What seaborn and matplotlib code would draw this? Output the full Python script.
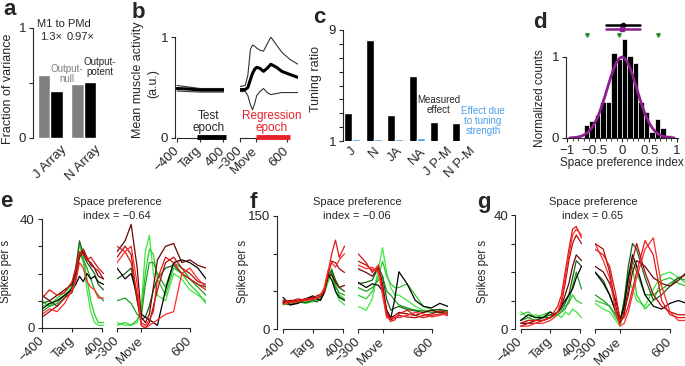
import numpy as np
import pandas as pd
import matplotlib
matplotlib.use("Agg")
import matplotlib.pyplot as plt
from matplotlib.ticker import MultipleLocator
import seaborn as sns

sns.set_style("ticks")
plt.rcParams["font.family"] = ["Liberation Sans", "DejaVu Sans"]
plt.rcParams["axes.linewidth"] = 0.8
plt.rcParams["xtick.major.width"] = 0.8
plt.rcParams["ytick.major.width"] = 0.8
plt.rcParams["xtick.major.size"] = 3
plt.rcParams["ytick.major.size"] = 3
plt.rcParams["xtick.labelsize"] = 9.5
plt.rcParams["ytick.labelsize"] = 9.5
plt.rcParams["xtick.major.pad"] = 2
plt.rcParams["ytick.major.pad"] = 2

# ---------------- data ----------------
# a: fraction of variance (M1 to PMd)
arrays = ["J Array", "N Array"]
null_frac = [0.57, 0.49]
potent_frac = [0.43, 0.51]

# b: mean muscle activity, target- and movement-aligned
b_t_targ = [-400, -200, 0, 200, 420]
b_mean_targ = [0.49, 0.485, 0.475, 0.475, 0.475]
b_hi_targ = [0.52, 0.505, 0.49, 0.49, 0.49]
b_lo_targ = [0.465, 0.46, 0.455, 0.455, 0.455]
b_t_move = [-300, -200, -150, -100, -60, -20, 20, 80, 150, 220, 290, 400, 500, 650, 810]
b_mean_move = [0.48, 0.48, 0.50, 0.58, 0.64, 0.68, 0.70, 0.69, 0.66, 0.69, 0.73, 0.70, 0.66, 0.63, 0.60]
b_hi_move = [0.51, 0.52, 0.62, 0.88, 0.92, 0.91, 0.89, 0.87, 0.86, 0.93, 1.0, 0.92, 0.85, 0.78, 0.73]
b_lo_move = [0.46, 0.46, 0.42, 0.33, 0.28, 0.34, 0.42, 0.46, 0.49, 0.45, 0.43, 0.44, 0.45, 0.45, 0.45]
test_epoch = [-50, 450]
regression_epoch = [0, 650]

# c: tuning ratio
c_labels = ["J", "N", "JA", "NA", "J P-M", "N P-M"]
c_measured = [3.0, 8.3, 2.9, 5.7, 2.4, 2.3]
c_tuning = [1.16, 1.12, 1.14, 1.22, 1.10, 1.05]

# d: space preference index histogram
d_edges = [-0.7, -0.6, -0.5, -0.4, -0.3, -0.2, -0.1, 0.0, 0.1, 0.2, 0.3, 0.4, 0.5, 0.6, 0.7, 0.8, 0.9]
d_counts = [0.16, 0.21, 0.28, 0.44, 0.44, 1.05, 0.97, 1.22, 1.01, 0.93, 0.44, 0.32, 0.08, 0.24, 0.12, 0.04]
d_fit_x = [-0.95, -0.9, -0.85, -0.8, -0.75, -0.7, -0.65, -0.6, -0.55, -0.5, -0.45, -0.4, -0.35,
           -0.3, -0.25, -0.2, -0.15, -0.1, -0.05, 0.0, 0.05, 0.1, 0.15, 0.2, 0.25, 0.3, 0.35,
           0.4, 0.45, 0.5, 0.55, 0.6, 0.65, 0.7, 0.75, 0.8, 0.85, 0.9, 0.95]
d_fit_y = [0.002, 0.004, 0.007, 0.012, 0.021, 0.035, 0.055, 0.085, 0.126, 0.180, 0.249, 0.334, 0.432,
           0.539, 0.651, 0.760, 0.857, 0.934, 0.983, 1.0, 0.983, 0.934, 0.857, 0.760, 0.651, 0.539, 0.432,
           0.334, 0.249, 0.180, 0.126, 0.085, 0.055, 0.035, 0.021, 0.012, 0.007, 0.004, 0.002]
d_data_mean, d_data_range = 0.02, [-0.30, 0.32]
d_fit_mean, d_fit_range = 0.0, [-0.30, 0.32]
d_examples = [-0.64, -0.06, 0.65]

# e-g: example neurons (conditions from green to red)
cond_names = ["g1", "g2", "g3", "g4", "k", "r1", "r2", "r3", "r4"]
cond_colors = ["#3ee83e", "#2ccc2c", "#1f9f1f", "#175e17", "#000000",
               "#6a0505", "#b00c0c", "#e01616", "#ff2a2a"]
t_targ = [-400, -300, -200, -100, 0, 50, 100, 150, 200, 250, 300, 350, 420]
t_move = [-300, -200, -125, -50, 0, 50, 100, 150, 200, 300, 400, 500, 600, 700, 800]

e_targ = [
    [8, 9, 10, 12, 15, 22, 31, 24, 14, 6, 2, 1, 1],
    [10, 8, 11, 13, 16, 20, 28, 26, 18, 10, 5, 2, 2],
    [6, 8, 9, 12, 14, 20, 27, 25, 22, 18, 14, 12, 10],
    [9, 10, 8, 11, 15, 22, 32, 27, 24, 22, 20, 16, 14],
    [7, 9, 10, 12, 14, 16, 19, 17, 20, 18, 19, 17, 16],
    [12, 10, 12, 14, 16, 20, 26, 28, 25, 24, 22, 19, 18],
    [4, 6, 8, 11, 13, 18, 27, 29, 26, 23, 22, 21, 18],
    [11, 14, 12, 13, 17, 22, 28, 27, 25, 26, 24, 22, 20],
    [5, 7, 6, 9, 14, 17, 24, 22, 17, 15, 14, 11, 11],
]
e_move = [
    [2, 1, 1, 2, 8, 28, 34, 20, 12, 10, 20, 18, 14, 12, 10],
    [1, 2, 1, 3, 6, 20, 29, 27, 18, 12, 22, 20, 16, 13, 9],
    [10, 11, 9, 5, 4, 16, 24, 24, 20, 15, 24, 22, 18, 15, 12],
    [18, 20, 22, 10, 3, 4, 8, 14, 18, 22, 23, 20, 18, 16, 15],
    [22, 18, 20, 12, 5, 4, 3, 2, 1, 14, 24, 25, 24, 22, 18],
    [28, 32, 38, 22, 4, 2, 5, 15, 25, 30, 31, 24, 25, 23, 22],
    [26, 30, 27, 10, 1, 0, 2, 8, 14, 24, 26, 22, 20, 17, 16],
    [30, 28, 24, 12, 2, 1, 3, 6, 18, 26, 24, 20, 18, 16, 14],
    [24, 28, 30, 16, 1, 0, 1, 2, 3, 5, 6, 20, 22, 18, 15],
]
f_targ = [
    [32, 35, 36, 34, 36, 38, 40, 48, 62, 72, 50, 38, 32],
    [35, 33, 38, 36, 38, 40, 42, 50, 68, 80, 60, 45, 40],
    [38, 36, 35, 38, 40, 42, 44, 48, 66, 75, 55, 48, 45],
    [34, 32, 36, 35, 38, 36, 40, 50, 70, 78, 65, 55, 50],
    [42, 32, 34, 40, 44, 40, 38, 48, 72, 65, 50, 42, 38],
    [36, 38, 37, 40, 42, 40, 44, 50, 70, 72, 62, 55, 58],
    [35, 37, 40, 38, 42, 44, 46, 52, 72, 90, 88, 80, 75],
    [38, 36, 38, 40, 40, 42, 44, 50, 75, 100, 118, 95, 110],
    [33, 35, 36, 38, 39, 41, 45, 55, 78, 88, 82, 92, 100],
]
f_move = [
    [30, 25, 40, 80, 108, 75, 55, 45, 45, 38, 30, 25, 24, 22, 22],
    [45, 40, 50, 70, 90, 70, 60, 55, 55, 60, 45, 30, 26, 25, 24],
    [55, 50, 55, 65, 70, 50, 45, 38, 32, 28, 25, 24, 22, 22, 20],
    [60, 62, 65, 82, 70, 40, 25, 28, 30, 26, 24, 22, 25, 26, 24],
    [62, 55, 60, 58, 50, 25, 14, 40, 76, 60, 38, 30, 28, 34, 30],
    [80, 75, 70, 82, 60, 25, 15, 18, 22, 20, 18, 22, 25, 22, 20],
    [90, 85, 78, 80, 55, 20, 12, 15, 18, 16, 15, 18, 20, 24, 22],
    [100, 88, 75, 85, 50, 18, 10, 12, 20, 25, 18, 15, 18, 20, 18],
    [85, 80, 82, 75, 45, 15, 14, 16, 15, 18, 22, 20, 16, 18, 22],
]
g_targ = [
    [6, 4, 5, 4, 5, 4, 5, 4, 6, 5, 7, 6, 4],
    [5, 6, 4, 5, 6, 5, 6, 6, 8, 9, 12, 10, 9],
    [3, 4, 3, 4, 4, 5, 5, 6, 7, 10, 15, 20, 14],
    [2, 3, 3, 4, 5, 5, 6, 7, 9, 12, 18, 24, 22],
    [3, 5, 4, 4, 6, 5, 6, 8, 10, 12, 14, 18, 22],
    [2, 2, 3, 3, 4, 5, 6, 8, 12, 16, 22, 26, 24],
    [1, 2, 2, 3, 4, 5, 6, 9, 16, 24, 30, 33, 30],
    [2, 3, 3, 3, 4, 6, 8, 12, 20, 28, 35, 36, 32],
    [1, 1, 2, 2, 3, 4, 6, 10, 18, 26, 33, 35, 33],
]
g_move = [
    [9, 7, 6, 3, 1, 6, 18, 14, 10, 8, 14, 19, 20, 18, 16],
    [10, 9, 8, 4, 2, 8, 20, 22, 12, 7, 10, 17, 18, 16, 15],
    [12, 10, 8, 5, 2, 10, 18, 24, 20, 12, 12, 14, 16, 18, 17],
    [20, 17, 12, 6, 2, 10, 22, 30, 28, 18, 10, 12, 15, 18, 19],
    [20, 16, 12, 6, 3, 8, 18, 26, 22, 12, 8, 7, 9, 10, 9],
    [22, 20, 16, 10, 4, 6, 12, 20, 24, 22, 18, 16, 15, 17, 20],
    [30, 28, 20, 8, 2, 5, 14, 24, 30, 20, 12, 8, 6, 5, 5],
    [28, 26, 22, 12, 3, 4, 8, 14, 20, 31, 26, 10, 5, 4, 4],
    [30, 24, 18, 6, 1, 2, 6, 12, 18, 28, 32, 15, 6, 3, 3],
]

GRAY = "#7f7f7f"
BLUE = "#4a9fe8"
RED = "#e8202a"
PURPLE = "#8f1f8f"

# ---------------- figure ----------------
W, H = 685, 366
fig = plt.figure(figsize=(W / 100, H / 100), dpi=100)


def px_axes(x0, y0, x1, y1):
    return fig.add_axes([x0 / W, 1 - y1 / H, (x1 - x0) / W, (y1 - y0) / H])


def px_text(x, y, s, **kw):
    kw.setdefault("ha", "center")
    kw.setdefault("va", "center")
    return fig.text(x / W, 1 - y / H, s, **kw)


def time_axis(ax, ticks, labels, bounds):
    ax.set_xticks(ticks)
    ax.set_xticklabels(labels, rotation=45, ha="right", va="center", rotation_mode="anchor")
    ax.spines["bottom"].set_bounds(*bounds)
    ax.tick_params(axis="x", pad=5)


def draw_traces(ax, t, rows):
    df = pd.DataFrame({"t": t * len(rows),
                       "rate": [v for row in rows for v in row],
                       "cond": [c for c in cond_names for _ in t]})
    sns.lineplot(data=df, x="t", y="rate", hue="cond", hue_order=cond_names,
                 palette=dict(zip(cond_names, cond_colors)), estimator=None,
                 lw=0.9, legend=False, ax=ax)
    ax.set(xlabel="", ylabel="")


# panel letters
for letter, x, y in [("a", 3, 15), ("b", 132, 18), ("c", 313, 23), ("d", 533, 28),
                     ("e", 0, 207), ("f", 250, 208), ("g", 477, 208)]:
    px_text(x, y, letter, ha="left", va="baseline", fontsize=16, fontweight="bold")

# ---- a ----
ax = px_axes(33, 28, 100, 138)
df_a = pd.DataFrame({"array": arrays * 2, "frac": null_frac + potent_frac,
                     "kind": ["null"] * 2 + ["potent"] * 2})
sns.barplot(data=df_a, x="array", y="frac", hue="kind",
            palette={"null": GRAY, "potent": "black"}, width=0.75, saturation=1,
            legend=False, ax=ax)
ax.set(xlim=(-0.51, 1.49), ylim=(0, 1), xlabel="", ylabel="")
ax.set_yticks([0, 0.5, 1], ["0", "", "1"])
ax.set_xticks([0, 1], arrays, rotation=45)
ax.tick_params(axis="x", length=0, pad=4)
sns.despine(ax=ax, bottom=True)
px_text(8, 89, "Fraction of variance", rotation=90, fontsize=9)
px_text(64, 24, "M1 to PMd", fontsize=8)
px_text(40, 37, "1.3×", ha="left", fontsize=8)
px_text(67, 37, "0.97×", ha="left", fontsize=8)
px_text(67, 74, "Output-\nnull", fontsize=7, color=GRAY, linespacing=1.1)
px_text(100, 67, "Output-\npotent", fontsize=7, linespacing=1.1)

# ---- b ----
axL = px_axes(175, 37, 224, 138)
axR = px_axes(240, 37, 298, 138)
for t, lo, mean, hi, ax in [(b_t_targ, b_lo_targ, b_mean_targ, b_hi_targ, axL),
                            (b_t_move, b_lo_move, b_mean_move, b_hi_move, axR)]:
    sns.lineplot(x=t, y=hi, color="#333333", lw=0.8, ax=ax)
    sns.lineplot(x=t, y=lo, color="#333333", lw=0.8, ax=ax)
    sns.lineplot(x=t, y=mean, color="black", lw=2.2, ax=ax)
    ax.set_ylim(0, 1)
axL.set_xlim(-436, 420)
axR.set_xlim(-300, 810)
sns.despine(ax=axL)
axL.spines["left"].set_bounds(0, 1)
axL.set_yticks([0, 1], ["0", "1"])
time_axis(axL, [-400, 0, 400], ["−400", "Targ", "400"], (-400, 400))
sns.despine(ax=axR, left=True)
axR.set_yticks([])
time_axis(axR, [-300, 0, 600], ["−300", "Move", "600"], (-300, 600))
axL.plot(test_epoch, [0.01, 0.01], color="black", lw=3.5, solid_capstyle="butt", clip_on=False, zorder=5)
axR.plot(regression_epoch, [0.01, 0.01], color=RED, lw=3.5, solid_capstyle="butt", clip_on=False, zorder=5)
px_text(209, 122, "Test\nepoch", fontsize=8.5, linespacing=1.0)
px_text(272, 122, "Regression\nepoch", fontsize=8.5, linespacing=1.0, color=RED)
px_text(138, 80, "Mean muscle activity", rotation=90, fontsize=9)
px_text(153, 84, "(a.u.)", rotation=90, fontsize=9)

# ---- c ----
ax = px_axes(343, 30, 470, 141)
df_c = pd.DataFrame({"cat": c_labels * 2, "ratio": c_measured + c_tuning,
                     "kind": ["measured"] * 6 + ["tuning"] * 6})
sns.barplot(data=df_c, x="cat", y="ratio", hue="kind",
            palette={"measured": "black", "tuning": BLUE}, width=0.74, saturation=1,
            legend=False, ax=ax)
ax.set(xlim=(-0.42, 5.46), ylim=(1, 9), xlabel="", ylabel="")
ax.set_yticks(range(1, 10), ["1"] + [""] * 7 + ["9"])
ax.set_xticks(range(6), c_labels, rotation=45)
ax.tick_params(axis="x", length=0, pad=3)
sns.despine(ax=ax, bottom=True)
px_text(316, 79, "Tuning ratio", rotation=90, fontsize=9)
px_text(439, 105, "Measured\neffect", fontsize=7, linespacing=1.0)
px_text(483, 121, "Effect due\nto tuning\nstrength", fontsize=7, linespacing=1.0, color=BLUE)

# ---- d ----
ax = px_axes(566, 20.5, 678, 138)
d_centers = [e + 0.05 for e in d_edges[:-1]]
sns.histplot(x=d_centers, weights=d_counts, bins=d_edges, color="black",
             edgecolor="white", linewidth=0.5, alpha=1, ax=ax)
sns.lineplot(x=d_fit_x, y=d_fit_y, color=PURPLE, lw=2, ax=ax)
ax.set(xlim=(-1.02, 1.02), ylim=(0, 1.45), xlabel="", ylabel="")
sns.despine(ax=ax)
ax.spines["left"].set_bounds(0, 1)
ax.set_yticks([0, 1], ["0", "1"])
ax.set_xticks([-1, -0.5, 0, 0.5, 1], ["−1", "−0.5", "0", "0.5", "1"])
ax.xaxis.set_minor_locator(MultipleLocator(0.1))
ax.tick_params(axis="x", which="minor", length=2, width=0.6)
ax.plot(d_data_range, [1.40, 1.40], color="black", lw=1.8, clip_on=False)
ax.plot([d_data_mean], [1.40], "o", color="black", ms=3, clip_on=False)
ax.plot(d_fit_range, [1.34, 1.34], color=PURPLE, lw=1.8, clip_on=False)
ax.plot([d_fit_mean], [1.34], "s", color=PURPLE, ms=3, clip_on=False)
ax.plot(d_examples, [1.27] * 3, "v", color="#2a8a2a", ms=2.5, clip_on=False)
px_text(540, 98, "Normalized counts", rotation=90, fontsize=8.5)
px_text(622, 163, "Space preference index", fontsize=8.5)

# ---- e, f, g ----
panels = [
    # y-spine x, left axis right edge, right axis x0/x1, top, bottom, xlims, ymax, step, data, title
    (41.7, 105, 117, 206, 219, 328, (-405, 440), (-300, 800), 40, 10, e_targ, e_move, 117, "index = −0.64", 6),
    (277, 347, 358, 448, 216, 329, (-480, 453), (-300, 800), 150, 50, f_targ, f_move, 357, "index = −0.06", 243),
    (515, 584, 595, 685, 215, 329, (-477, 454), (-300, 780), 40, 10, g_targ, g_move, 593, "index = 0.65", 483),
]
for (x0, x1, xr0, xr1, top, bot, xlimL, xlimR, ymax, step,
     targ_rows, move_rows, tx, idx_text, ylab_x) in panels:
    axL = px_axes(x0, top, x1, bot)
    axR = px_axes(xr0, top, xr1, bot)
    draw_traces(axL, t_targ, targ_rows)
    draw_traces(axR, t_move, move_rows)
    for ax in (axL, axR):
        ax.set_ylim(0, ymax)
    axL.set_xlim(*xlimL)
    axR.set_xlim(*xlimR)
    sns.despine(ax=axL)
    yt = list(range(0, ymax + 1, step))
    axL.set_yticks(yt, ["0"] + [""] * (len(yt) - 2) + [str(ymax)])
    time_axis(axL, [-400, 0, 400], ["−400", "Targ", "400"], (-400, 400))
    sns.despine(ax=axR, left=True)
    axR.set_yticks([])
    time_axis(axR, [-300, 0, 600], ["−300", "Move", "600"], (-300, 600))
    px_text(tx, 202, "Space preference", fontsize=8)
    px_text(tx, 216, idx_text, fontsize=8)
    px_text(ylab_x, 271, "Spikes per s", rotation=90, fontsize=8.3)

fig.savefig("out.png", dpi=100)
